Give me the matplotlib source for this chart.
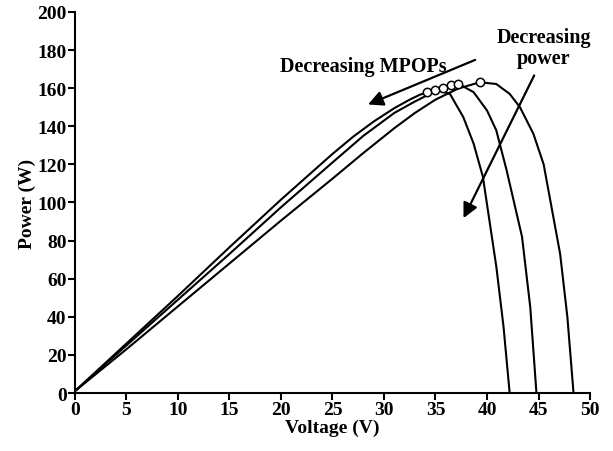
import matplotlib.pyplot as plt

# P-V curves (voltage in V, power in W)
v1 = [0, 5, 10, 15, 20, 25, 27, 29, 31, 32.5, 33.5, 34.5, 35.5, 36.4, 37.7, 38.7, 39.6, 40.9, 41.6, 42.2]
p1 = [1, 26, 51, 76.5, 101.5, 125.5, 134.5, 142.5, 149.5, 154, 156.6, 158.2, 158.5, 157, 144.8, 130.9, 113.5, 66.5, 35, 0]

v2 = [0, 5, 10, 15, 20, 25, 28, 31, 33, 35, 36.5, 37.2, 38.7, 40.0, 40.9, 41.9, 43.4, 44.2, 44.8]
p2 = [1, 25, 49, 73, 97.5, 121, 135, 147, 153, 158.5, 161.3, 162.4, 157.9, 148.3, 137.9, 117, 82, 45, 0]

v3 = [0, 5, 10, 15, 20, 25, 28, 31, 33, 35, 37.2, 39.3, 40.9, 42.2, 43.2, 44.5, 45.5, 47.1, 47.8, 48.4]
p3 = [1, 23, 45.5, 68, 90.5, 112.5, 126, 139, 147, 154, 159.8, 163.1, 162.2, 157, 150, 136.1, 120, 73, 40, 0]

# maximum power operating points
mpop_v = [34.2, 35.0, 35.7, 36.5, 37.2, 39.3]
mpop_p = [158.2, 159.0, 160.3, 161.6, 162.4, 163.2]

xticks = list(range(0, 51, 5))
yticks = list(range(0, 201, 20))

plt.rcParams["font.family"] = ["Liberation Serif", "DejaVu Serif"]
plt.rcParams["font.weight"] = "bold"

fig = plt.figure(figsize=(6.13, 4.52), dpi=100)
ax = fig.add_axes([0.1223, 0.1283, 0.8402, 0.843])

for v, p in [(v1, p1), (v2, p2), (v3, p3)]:
    ax.plot(v, p, color="black", lw=1.5)
ax.plot(mpop_v, mpop_p, "o", ms=6, mfc="white", mec="black", mew=1.1)

ax.annotate("", xy=(28.2, 150.9), xytext=(39.1, 175.4),
            arrowprops=dict(arrowstyle="-|>,head_length=0.9,head_width=0.45",
                            color="black", lw=1.6))
ax.annotate("", xy=(37.6, 90.5), xytext=(44.7, 168),
            arrowprops=dict(arrowstyle="-|>,head_length=0.9,head_width=0.45",
                            color="black", lw=1.6))
ax.text(28.0, 171.8, "Decreasing MPOPs", ha="center", va="center",
        fontsize=14.5, fontweight="bold")
ax.text(45.5, 181.5, "Decreasing\npower", ha="center", va="center",
        fontsize=14.5, fontweight="bold", linespacing=1.05)

ax.set_xlim(0, 50)
ax.set_ylim(0, 200)
ax.set_xticks(xticks)
ax.set_yticks(yticks)
ax.spines["top"].set_visible(False)
ax.spines["right"].set_visible(False)
for s in ["left", "bottom"]:
    ax.spines[s].set_linewidth(1.5)
ax.tick_params(direction="out", length=5, width=1.5, labelsize=14, pad=1)
ax.set_xlabel("Voltage (V)", fontsize=14, fontweight="bold", labelpad=0)
ax.set_ylabel("Power (W)", fontsize=14, fontweight="bold", labelpad=1)

plt.savefig("out.png", dpi=100)
